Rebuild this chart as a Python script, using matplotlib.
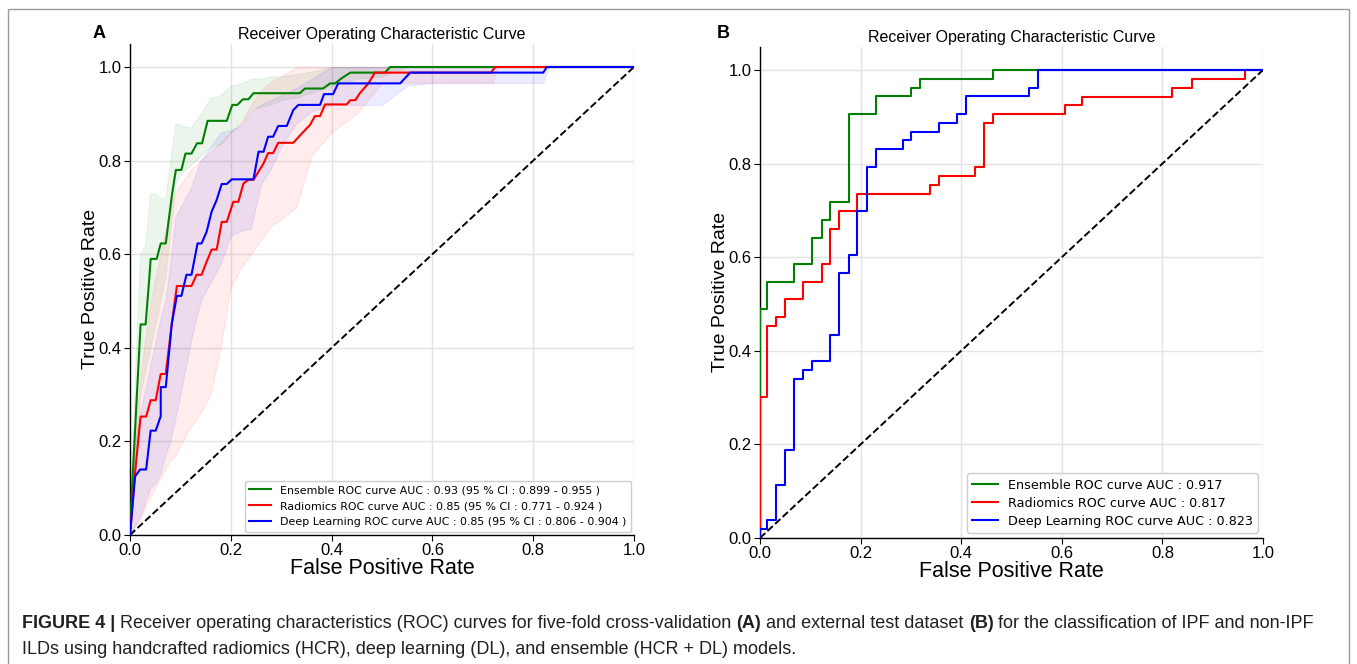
import numpy as np
import matplotlib
matplotlib.use('Agg')
import matplotlib.pyplot as plt
from matplotlib import font_manager
from matplotlib.patches import Rectangle

# ---- panel A : five-fold CV mean ROC curves ----
ens_fpr = [0, 0.004, 0.021, 0.031, 0.038, 0.041, 0.053, 0.061, 0.071, 0.083, 0.091, 0.102, 0.110,
           0.122, 0.133, 0.143, 0.154, 0.192, 0.203, 0.213, 0.224, 0.235, 0.245, 0.337, 0.347,
           0.383, 0.397, 0.407, 0.420, 0.437, 0.506, 0.516, 1.0]
ens_tpr = [0, 0.10, 0.45, 0.45, 0.545, 0.59, 0.59, 0.623, 0.623, 0.725, 0.78, 0.78, 0.815,
           0.815, 0.837, 0.837, 0.885, 0.885, 0.919, 0.919, 0.931, 0.931, 0.944, 0.944, 0.954,
           0.954, 0.965, 0.965, 0.976, 0.988, 0.988, 1.0, 1.0]

rad_fpr = [0, 0.010, 0.021, 0.032, 0.041, 0.051, 0.061, 0.071, 0.083, 0.093, 0.122, 0.132, 0.142,
           0.152, 0.162, 0.172, 0.182, 0.192, 0.205, 0.215, 0.225, 0.235, 0.245, 0.265, 0.274,
           0.284, 0.294, 0.324, 0.341, 0.357, 0.367, 0.377, 0.387, 0.430, 0.437, 0.447, 0.456,
           0.473, 0.486, 0.716, 0.725, 1.0]
rad_tpr = [0, 0.132, 0.253, 0.253, 0.288, 0.288, 0.344, 0.344, 0.452, 0.532, 0.532, 0.556, 0.556,
           0.584, 0.61, 0.61, 0.669, 0.669, 0.712, 0.712, 0.751, 0.759, 0.759, 0.794, 0.816,
           0.816, 0.838, 0.838, 0.858, 0.876, 0.895, 0.895, 0.92, 0.92, 0.929, 0.929, 0.944,
           0.965, 0.988, 0.988, 1.0, 1.0]

dl_fpr = [0, 0.010, 0.020, 0.032, 0.041, 0.051, 0.061, 0.061, 0.071, 0.083, 0.093, 0.102, 0.112,
          0.122, 0.134, 0.142, 0.152, 0.162, 0.172, 0.182, 0.192, 0.202, 0.245, 0.255, 0.265,
          0.274, 0.284, 0.294, 0.311, 0.324, 0.334, 0.377, 0.385, 0.403, 0.413, 0.536, 0.556,
          0.820, 0.827, 1.0]
dl_tpr = [0, 0.125, 0.14, 0.14, 0.223, 0.223, 0.254, 0.316, 0.316, 0.452, 0.511, 0.511, 0.556,
          0.556, 0.623, 0.623, 0.648, 0.691, 0.716, 0.75, 0.75, 0.76, 0.76, 0.819, 0.819,
          0.851, 0.851, 0.874, 0.874, 0.908, 0.919, 0.919, 0.942, 0.942, 0.965, 0.965, 0.988,
          0.988, 1.0, 1.0]

# 95% CI bands
band_fpr = [0, 0.01, 0.02, 0.03, 0.04, 0.05, 0.06, 0.07, 0.08, 0.09, 0.10, 0.12, 0.14, 0.16,
            0.18, 0.20, 0.22, 0.24, 0.26, 0.28, 0.30, 0.33, 0.36, 0.40, 0.45, 0.50, 0.55, 0.60,
            0.72, 0.73, 0.82, 0.83, 1.0]
ens_upper = [0, .35, .6, .62, .73, .73, .72, .72, .8, .88, .875, .87, .9, .935, .94, .96, .965,
             .975, .975, .98, .98, .985, .99, 1, 1, 1, 1, 1, 1, 1, 1, 1, 1]
ens_lower = [0, .15, .3, .35, .4, .45, .5, .55, .65, .75, .77, .79, .81, .83, .835, .86, .88,
             .91, .915, .92, .93, .935, .945, .96, .975, .98, 1, 1, 1, 1, 1, 1, 1]
rad_upper = [0, .22, .33, .42, .49, .55, .6, .65, .7, .73, .75, .78, .8, .82, .84, .86, .88,
             .92, .95, .97, .98, 1, 1, 1, 1, 1, 1, 1, 1, 1, 1, 1, 1]
rad_lower = [0, .02, .03, .06, .08, .1, .12, .14, .16, .17, .19, .23, .26, .3, .4, .53, .57,
             .6, .63, .66, .675, .7, .81, .86, .9, .966, .966, .966, .966, 1, 1, 1, 1]
dl_upper = [0, .2, .26, .31, .36, .41, .46, .5, .58, .68, .7, .74, .8, .83, .86, .865, .875,
            .905, .92, .93, .94, .955, .975, 1, 1, 1, 1, 1, 1, 1, 1, 1, 1]
dl_lower = [0, .02, .04, .07, .1, .11, .13, .17, .2, .25, .3, .41, .5, .54, .58, .64, .65,
            .655, .75, .784, .83, .88, .905, .919, .919, .919, .96, .966, .966, .966, .966, 1, 1]

labels_a = ['Ensemble ROC curve AUC : 0.93 (95 % CI : 0.899 - 0.955 )',
            'Radiomics ROC curve AUC : 0.85 (95 % CI : 0.771 - 0.924 )',
            'Deep Learning ROC curve AUC : 0.85 (95 % CI : 0.806 - 0.904 )']

# ---- panel B : external test set ROC curves ----
ens_fpr_b = [0, 0, .0146, .0146, .068, .068, .104, .104, .123, .123, .14, .14, .176, .176,
             .23, .23, .301, .301, .319, .319, .464, .464, 1.0]
ens_tpr_b = [0, .489, .489, .548, .548, .585, .585, .642, .642, .679, .679, .717, .717, .906,
             .906, .944, .944, .962, .962, .981, .981, 1.0, 1.0]
rad_fpr_b = [0, 0, .0146, .0146, .032, .032, .05, .05, .086, .086, .123, .123, .14, .14,
             .158, .158, .193, .193, .338, .338, .356, .356, .427, .427, .445, .445, .464,
             .464, .606, .606, .64, .64, .82, .82, .858, .858, .965, .965, 1.0]
rad_tpr_b = [0, .302, .302, .453, .453, .472, .472, .51, .51, .548, .548, .585, .585, .66,
             .66, .699, .699, .736, .736, .754, .754, .774, .774, .793, .793, .887, .887,
             .906, .906, .925, .925, .943, .943, .962, .962, .981, .981, 1.0, 1.0]
dl_fpr_b = [0, 0, .0146, .0146, .032, .032, .05, .05, .068, .068, .086, .086, .104, .104,
            .14, .14, .158, .158, .176, .176, .193, .193, .212, .212, .23, .23, .284, .284,
            .301, .301, .356, .356, .392, .392, .41, .41, .535, .535, .552, .552, 1.0]
dl_tpr_b = [0, .0186, .0186, .038, .038, .113, .113, .188, .188, .34, .34, .359, .359, .378,
            .378, .434, .434, .567, .567, .605, .605, .699, .699, .793, .793, .831, .831, .85,
            .85, .868, .868, .887, .887, .906, .906, .944, .944, .962, .962, 1.0, 1.0]

labels_b = ['Ensemble ROC curve AUC : 0.917',
            'Radiomics ROC curve AUC : 0.817',
            'Deep Learning ROC curve AUC : 0.823']

colors = ['green', 'red', 'blue']
ticks = [0.0, 0.2, 0.4, 0.6, 0.8, 1.0]

plt.rcParams['font.family'] = ['Liberation Sans', 'DejaVu Sans']

fig = plt.figure(figsize=(13.57, 6.64), dpi=100)
W, H = 1357, 664

# frame around the figure (runs off the bottom edge)
fig.patches.append(Rectangle((8 / W, -10 / H), 1341 / W, 665 / H, transform=fig.transFigure,
                             fill=False, edgecolor='#9a9a9a', linewidth=1.0))


def style_axes(ax, title):
    ax.set_xlim(0, 1)
    ax.set_ylim(0, 1.05)
    ax.set_xticks(ticks)
    ax.set_yticks(ticks)
    ax.set_xticklabels([f'{t:.1f}' for t in ticks])
    ax.set_yticklabels([f'{t:.1f}' for t in ticks])
    ax.tick_params(labelsize=12, length=4, width=0.8, pad=2)
    ax.grid(True, color='#e3e3e3', linewidth=1.0)
    ax.set_axisbelow(True)
    for s in ['top', 'right']:
        ax.spines[s].set_visible(False)
    ax.spines['left'].set_linewidth(1.0)
    ax.spines['bottom'].set_linewidth(1.0)
    ax.set_title(title, fontsize=11.5, pad=3)
    ax.set_xlabel('False Positive Rate', fontsize=15.5, labelpad=0)
    ax.set_ylabel('True Positive Rate', fontsize=14, labelpad=0)
    ax.plot([0, 1], [0, 1], 'k--', linewidth=1.4, zorder=4)


# panel A
ax1 = fig.add_axes([130 / W, 129 / H, 504 / W, 491.4 / H])
for fpr, tpr, up, lo, c, lab in zip([ens_fpr, rad_fpr, dl_fpr], [ens_tpr, rad_tpr, dl_tpr],
                                    [ens_upper, rad_upper, dl_upper], [ens_lower, rad_lower, dl_lower],
                                    colors, labels_a):
    ax1.fill_between(band_fpr, lo, up, color=c, alpha=0.075, linewidth=0.8, zorder=2)
    ax1.plot(fpr, tpr, color=c, linewidth=1.5, label=lab, zorder=5)
style_axes(ax1, 'Receiver Operating Characteristic Curve')
ax1.legend(loc='lower right', prop={'family': 'DejaVu Sans', 'size': 7.9},
           handlelength=2.0, labelspacing=0.55, borderaxespad=0.3, framealpha=1,
           edgecolor='#cccccc')

# panel B
ax2 = fig.add_axes([760 / W, 126 / H, 503 / W, 491.4 / H])
for fpr, tpr, c, lab in zip([ens_fpr_b, rad_fpr_b, dl_fpr_b], [ens_tpr_b, rad_tpr_b, dl_tpr_b],
                            colors, labels_b):
    ax2.plot(fpr, tpr, color=c, linewidth=1.5, label=lab, zorder=5)
style_axes(ax2, 'Receiver Operating Characteristic Curve')
ax2.legend(loc='lower right', prop={'family': 'DejaVu Sans', 'size': 9.2},
           handlelength=2.0, labelspacing=0.4, borderaxespad=0.4, framealpha=1,
           edgecolor='#cccccc')

fig.text(93 / W, 1 - 33 / H, 'A', fontsize=13, fontweight='bold', va='center')
fig.text(717 / W, 1 - 33 / H, 'B', fontsize=13, fontweight='bold', va='center')

# ---- caption with bold fragments ----
try:
    font_manager.findfont('Liberation Sans Narrow', fallback_to_default=False)
    cap_font = 'Liberation Sans Narrow'
except ValueError:
    cap_font = 'Liberation Sans'

line1 = [('FIGURE 4 |', 'bold'),
         ('Receiver operating characteristics (ROC) curves for five-fold cross-validation', 'normal'),
         ('(A)', 'bold'), ('and external test dataset', 'normal'), ('(B)', 'bold'),
         ('for the classification of IPF and non-IPF', 'normal')]
line2 = [('ILDs using handcrafted radiomics (HCR), deep learning (DL), and ensemble (HCR + DL) models.',
          'normal')]

renderer = fig.canvas.get_renderer()


def text_w(s, size, weight='normal'):
    t = fig.text(0, 0, s, fontsize=size, family=cap_font, fontweight=weight)
    w = t.get_window_extent(renderer).width
    t.remove()
    return w


base = 10
space = text_w('a a', base) - text_w('aa', base)
total = sum(text_w(s, base, wt) for s, wt in line1) + space * (len(line1) - 1)
cap_size = base * (1318 - 22) / total
space = space * cap_size / base


def draw_line(parts, y):
    x = 22
    for s, wt in parts:
        t = fig.text(x / W, 1 - y / H, s, fontsize=cap_size, family=cap_font, fontweight=wt,
                     va='center', color='#231f20')
        x += t.get_window_extent(renderer).width + space


draw_line(line1, 623)
draw_line(line2, 649)

fig.savefig('out.png', dpi=100)
